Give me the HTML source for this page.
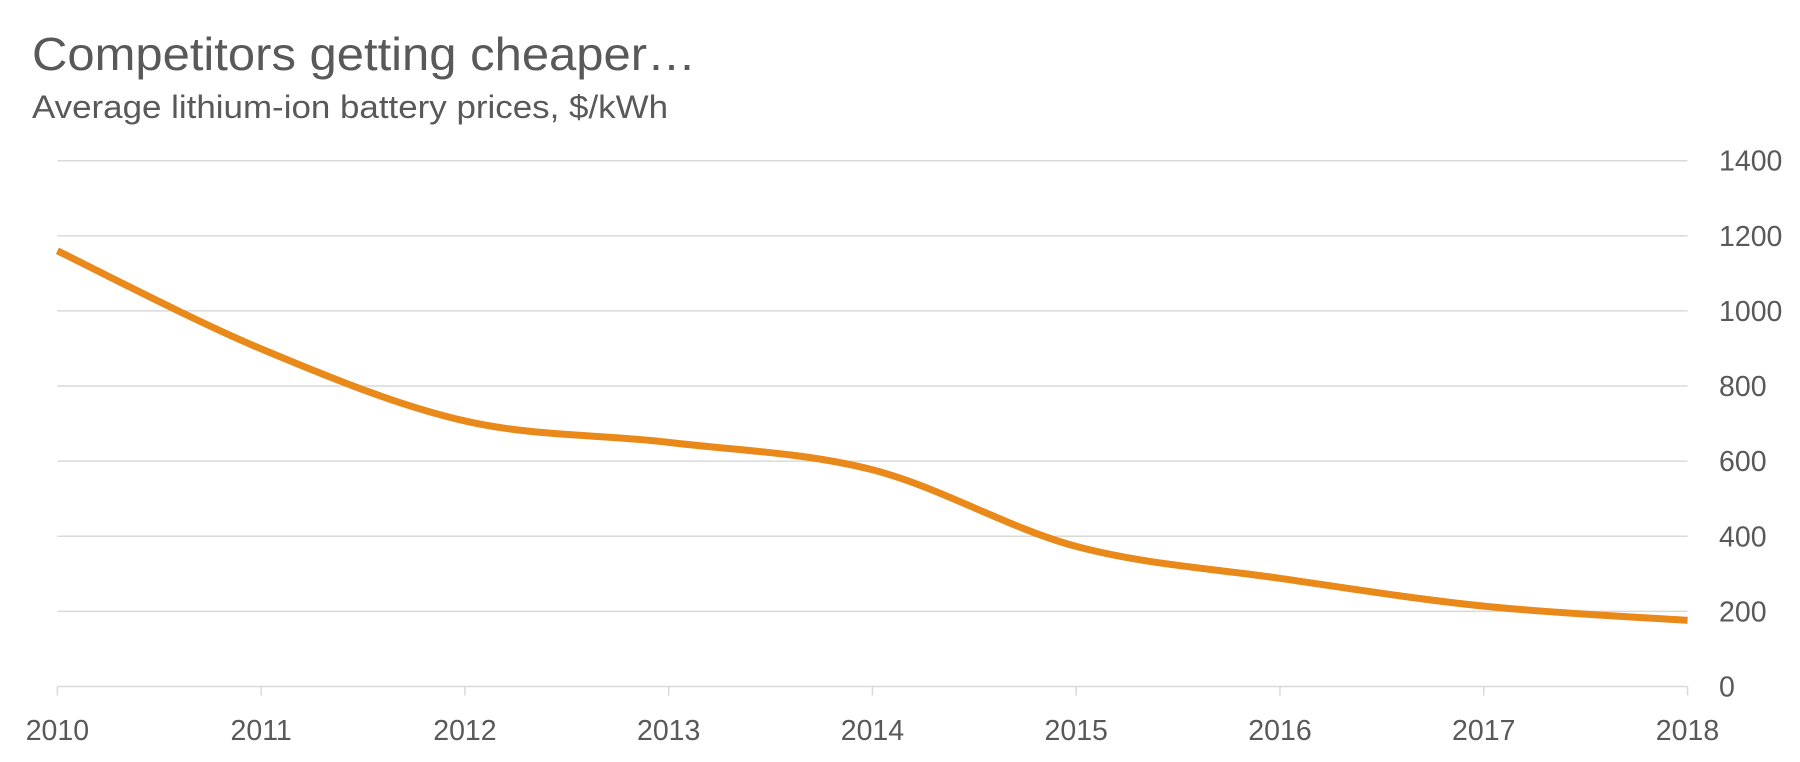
<!DOCTYPE html>
<html><head><meta charset="utf-8"><style>
html,body{margin:0;padding:0;background:#fff;}
svg{display:block;font-family:"Liberation Sans",sans-serif;}
</style></head><body>
<svg id="chart" width="1800" height="762" viewBox="0 0 1800 762">
<text x="32" y="70" font-size="46" fill="#595959" textLength="664" lengthAdjust="spacingAndGlyphs">Competitors getting cheaper…</text>
<text x="32" y="118" font-size="32" fill="#595959" textLength="636" lengthAdjust="spacingAndGlyphs">Average lithium-ion battery prices, $/kWh</text>
<g id="grid"></g><g id="axes"></g><g id="series"></g>
</svg>
<script>
const years = ["2010","2011","2012","2013","2014","2015","2016","2017","2018"];
const prices = [1160, 899, 707, 650, 577, 373, 288, 214, 176];
const yTicks = [0, 200, 400, 600, 800, 1000, 1200, 1400];
const X0 = 57.4, X1 = 1687.5, Y0 = 686.5, Y1 = 160.7, YMAX = 1400;
const xs = i => X0 + (X1 - X0) * i / (years.length - 1);
const ys = v => Y0 - (Y0 - Y1) * v / YMAX;
const NS = "http://www.w3.org/2000/svg";
const grid = document.getElementById('grid'), axes = document.getElementById('axes'), series = document.getElementById('series');
function mk(tag, attrs, parent){const e=document.createElementNS(NS,tag);for(const k in attrs)e.setAttribute(k,attrs[k]);parent.appendChild(e);return e;}
yTicks.forEach(t=>{
  if(t>0){const l=mk('line',{x1:X0,x2:X1,y1:ys(t),y2:ys(t),stroke:'#d9d9d9','stroke-width':1.5},grid);
  
  }
  const tx=mk('text',{x:1719,y:ys(t)+10,'font-size':28.5,fill:'#595959'},axes);tx.textContent=t;
  
  
});
const ax=mk('line',{x1:X0,x2:X1,y1:Y0,y2:Y0,stroke:'#d9d9d9','stroke-width':1.5},axes);


years.forEach((y,i)=>{
  const tk=mk('line',{x1:xs(i),x2:xs(i),y1:Y0,y2:Y0+9,stroke:'#d9d9d9','stroke-width':1.5},axes);
  
  
  const tx=mk('text',{x:xs(i),y:740,'font-size':28.5,fill:'#595959','text-anchor':'middle'},axes);tx.textContent=y;
  
  
});
const pts=prices.map((v,i)=>[xs(i),ys(v)]);
let d='M'+pts[0][0]+','+pts[0][1];
for(let i=0;i<pts.length-1;i++){
  const p0=pts[Math.max(i-1,0)],p1=pts[i],p2=pts[i+1],p3=pts[Math.min(i+2,pts.length-1)];
  const c1=[p1[0]+(p2[0]-p0[0])/6,p1[1]+(p2[1]-p0[1])/6];
  const c2=[p2[0]-(p3[0]-p1[0])/6,p2[1]-(p3[1]-p1[1])/6];
  d+=' C'+c1+' '+c2+' '+p2;
}
const path=mk('path',{d:d,fill:'none',stroke:'#E8891A','stroke-width':7,'stroke-linecap':'butt'},series);


</script>
</body></html>
